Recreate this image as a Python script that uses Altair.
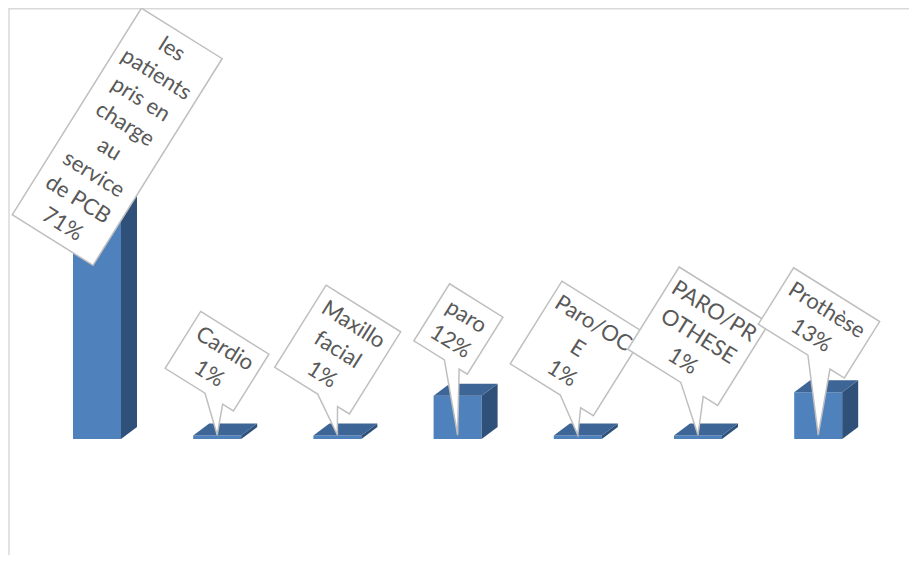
import altair as alt
import pandas as pd

# ---------------- data ----------------
categories = ["les patients pris en charge au service de PCB", "Cardio", "Maxillo facial",
              "paro", "Paro/OCE", "PARO/PROTHESE", "Prothèse"]
values = [71, 1, 1, 12, 1, 1, 13]
label_text = ["les\npatients\npris en\ncharge\nau\nservice\nde PCB", "Cardio", "Maxillo\nfacial",
              "paro", "Paro/OC\nE", "PARO/PR\nOTHESE", "Prothèse"]

# ---------------- layout / style ----------------
W, H = 901, 547
PX_X = 120.2          # px per category step
X_FIRST = 89          # px of first bar centre inside the view
BASE = 431            # px of the value 0 baseline inside the view
PX_Y = 3.6            # px per percent
x_dom = [-X_FIRST / PX_X, (W - X_FIRST) / PX_X]
y_dom = [-(H - BASE) / PX_Y, BASE / PX_Y]
HALF = 24 / PX_X      # half width of front face
DX = 16 / PX_X        # 3D depth (x)
DY = 12 / PX_Y        # 3D depth (y)

FRONT, TOP, SIDE = "#4f81bd", "#3d6595", "#2f5079"
ANGLE = 32
TIP_OFFSET = -4
LINE_H = 29.5

# callout boxes in the rotated frame, relative to the pointer tip: (u0, u1, v0, v1)
boxes = [(-188.5, -93.3, -385.5, -141.8), (-79.5, 1, -96, -29), (-89, -1, -121, -24.2),
         (-87, -24, -124, -56.7), (-95, 3, -122, -24.6), (-105, 1, -132.5, -35.5),
         (-109.5, -8, -128.8, -62.2)]
tails = [None, (-32.5, -11.7), (-38.4, -15), (-51, -33.6), (-36, -12), (-42.5, -16), (-51, -25)]


def callout_path(box, tail):
    u0, u1, v0, v1 = box
    if tail is None:
        return f"M{u0},{v0}L{u1},{v0}L{u1},{v1}L{u0},{v1}Z"
    ta, tb = tail
    return f"M{u0},{v0}L{u1},{v0}L{u1},{v1}L{tb},{v1}L0,0L{ta},{v1}L{u0},{v1}Z"


xs = alt.Scale(domain=x_dom, nice=False, zero=False)
ys = alt.Scale(domain=y_dom, nice=False, zero=False)

idx = list(range(len(categories)))
bars_df = pd.DataFrame({"idx": idx, "cat": categories, "value": values})
bars_df["x0"] = bars_df["idx"] - HALF
bars_df["x1"] = bars_df["idx"] + HALF
bars_df["y0"] = 0.0

side_rows, top_rows = [], []
for i, c, v in zip(idx, categories, values):
    side_rows.append({"cat": c, "x": i + HALF, "y": 0.0, "y2": v})
    side_rows.append({"cat": c, "x": i + HALF + DX, "y": DY, "y2": v + DY})
    top_rows.append({"cat": c, "y": v, "x": i - HALF, "x2": i + HALF})
    top_rows.append({"cat": c, "y": v + DY, "x": i - HALF + DX, "x2": i + HALF + DX})
side_df = pd.DataFrame(side_rows)
top_df = pd.DataFrame(top_rows)

front = alt.Chart(bars_df).mark_rect(color=FRONT, opacity=1).encode(
    x=alt.X("x0:Q", scale=xs, axis=None), x2="x1:Q",
    y=alt.Y("y0:Q", scale=ys, axis=None), y2="value:Q")

side = alt.Chart(side_df).mark_area(color=SIDE, orient="vertical", opacity=1).encode(
    x=alt.X("x:Q", scale=xs, axis=None),
    y=alt.Y("y:Q", scale=ys, axis=None), y2="y2:Q", detail="cat:N")

top = alt.Chart(top_df).mark_area(color=TOP, orient="horizontal", opacity=1).encode(
    y=alt.Y("y:Q", scale=ys, axis=None),
    x=alt.X("x:Q", scale=xs, axis=None), x2="x2:Q", detail="cat:N")

frame_df = pd.DataFrame({"k": [0]})
left_line = alt.Chart(frame_df).mark_rule(color="#d9d9d9", strokeWidth=1.5).encode(
    x=alt.value(1), y=alt.value(0), y2=alt.value(H))
top_line = alt.Chart(frame_df).mark_rule(color="#d9d9d9", strokeWidth=1.5).encode(
    x=alt.value(1), x2=alt.value(W), y=alt.value(0.75))

layers = [left_line, top_line, front, side, top]

for i, c, v, lab, box, tail in zip(idx, categories, values, label_text, boxes, tails):
    full = lab + "\n" + f"{v}%"
    n_lines = full.count("\n") + 1
    d = pd.DataFrame({"idx": [i], "y0": [0.0], "label": [full]})
    uc = (box[0] + box[1]) / 2
    vc = (box[2] + box[3]) / 2 - (n_lines - 1) * LINE_H / 2
    bubble = alt.Chart(d).mark_point(
        shape=callout_path(box, tail), size=4, angle=ANGLE, filled=True,
        color="white", fill="white", stroke="#bfbfbf", strokeWidth=1.5, opacity=1,
        yOffset=TIP_OFFSET
    ).encode(x=alt.X("idx:Q", scale=xs, axis=None), y=alt.Y("y0:Q", scale=ys, axis=None))
    text = alt.Chart(d).mark_text(
        angle=ANGLE, dx=uc, dy=vc, align="center", baseline="middle", lineBreak="\n",
        font="Lato", fontSize=22, lineHeight=LINE_H, color="#595959", yOffset=TIP_OFFSET
    ).encode(x=alt.X("idx:Q", scale=xs, axis=None), y=alt.Y("y0:Q", scale=ys, axis=None),
             text="label:N")
    layers += [bubble, text]

chart = alt.layer(*layers).properties(
    width=W, height=H, autosize=alt.AutoSizeParams(type="none"), padding=0
).configure_view(stroke=None)

chart.save("out.html", embed_options={"renderer": "svg", "actions": False})
